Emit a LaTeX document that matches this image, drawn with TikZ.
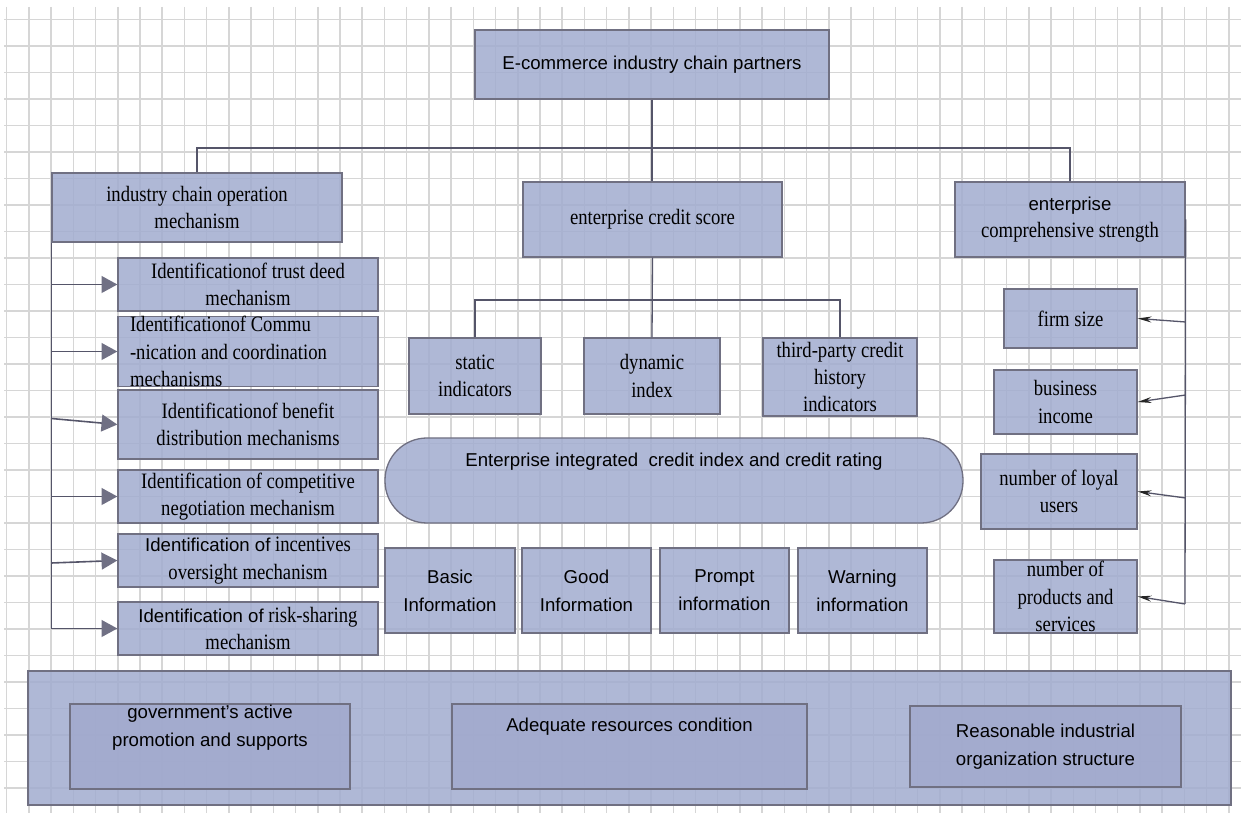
\documentclass[tikz,border=0pt]{standalone}
\usepackage{fontspec}
\usepackage{xcolor}
\usetikzlibrary{arrows.meta,calc}

\newfontfamily\timesnarrow{Liberation Serif}[FakeStretch=0.85]
\newfontfamily\arialfont{Liberation Sans}
\newcommand{\sertext}{\timesnarrow\fontsize{12.5pt}{15.5pt}\selectfont}
\newcommand{\santext}{\arialfont\fontsize{10.6pt}{16pt}\selectfont}
\newcommand{\sanword}[1]{{\arialfont\fontsize{10.6pt}{15.5pt}\selectfont #1}}

\definecolor{boxfill}{RGB}{162,172,207}
\definecolor{innerfill}{RGB}{161,169,205}
\definecolor{boxline}{RGB}{112,112,130}
\definecolor{linkline}{RGB}{85,85,105}
\definecolor{headgray}{RGB}{112,112,132}
\definecolor{gridgray}{RGB}{214,214,214}

\newdimen\pxu \pxu=0.02cm

\begin{document}
\begin{tikzpicture}[x=0.02cm,y=-0.02cm,
  chainbox/.style={rectangle,draw=boxline,line width=1.3\pxu,fill=boxfill,fill opacity=0.85,text opacity=1,inner sep=0pt,align=center,font=\sertext},
  sanbox/.style={chainbox,font=\santext},
  innerbox/.style={sanbox,fill=innerfill},
  link/.style={draw=linkline,line width=1.3\pxu},
  leftarrow/.style={link,line width=1.6\pxu,-{Triangle[length=9pt,width=9.6pt,fill=headgray,color=headgray]}},
  rightarrow/.style={link,-{Stealth[length=7.9pt,width=3.4pt,color=black!85]}},
  gridline/.style={draw=gridgray,line width=1.5\pxu}]

\useasboundingbox (0,0) rectangle (1241,813);
\fill[white] (0,0) rectangle (1241,813);
\foreach \gx in {0,...,55}
  \draw[gridline] ({6.7+22.22*\gx},7) -- ({6.7+22.22*\gx},813);
\foreach \gy in {-1,...,28}
  \draw[gridline] (4,{46+26.5*\gy}) -- (1241,{46+26.5*\gy});

\node (T)[sanbox,minimum width=354\pxu,minimum height=69\pxu] at (652,64.5) {E-commerce industry chain partners};

\node (L0)[chainbox,minimum width=290\pxu,minimum height=69\pxu] at (197,207.5) {industry chain operation\\mechanism};
\node (C0)[chainbox,minimum width=259\pxu,minimum height=75\pxu] at (652.5,219.5) {enterprise credit score};
\node (R0)[chainbox,minimum width=230\pxu,minimum height=75\pxu] at (1070,219.5) {\sanword{enterprise}\\comprehensive strength};

\node (L1)[chainbox,minimum width=260\pxu,minimum height=53\pxu] at (248,284.5) {Identificationof trust deed\\mechanism};
\node (L2)[chainbox,minimum width=260\pxu,minimum height=69\pxu,text width=236\pxu,inner xsep=12\pxu,align=flush left] at (248,351.5) {Identificationof Commu\\-nication and coordination\\mechanisms};
\node (L3)[chainbox,minimum width=260\pxu,minimum height=69\pxu] at (248,424.5) {Identificationof benefit\\distribution mechanisms};
\node (L4)[chainbox,minimum width=260\pxu,minimum height=53\pxu] at (248,496.5) {Identification of competitive\\negotiation mechanism};
\node (L5)[chainbox,minimum width=260\pxu,minimum height=53\pxu] at (248,560.5) {\sanword{Identification of} incentives\\oversight mechanism};
\node (L6)[chainbox,minimum width=260\pxu,minimum height=53\pxu] at (248,628.5) {\sanword{Identification of} risk-sharing\\mechanism};

\node (C1)[chainbox,minimum width=132\pxu,minimum height=76\pxu] at (475,376) {static\\indicators};
\node (C2)[chainbox,minimum width=136\pxu,minimum height=76\pxu] at (652,376) {dynamic\\index};
\node (C3)[chainbox,minimum width=154\pxu,minimum height=78\pxu] at (840,377) {third-party credit\\history\\indicators};

\node (P)[sanbox,minimum width=578\pxu,minimum height=85\pxu,rounded corners=42\pxu] at (674,480.5) {};
\node (PT)[font=\santext] at (674,462) {Enterprise integrated\ \ credit index and credit rating};

\node (I1)[sanbox,minimum width=130\pxu,minimum height=85\pxu] at (450,590.5) {Basic\\Information};
\node (I2)[sanbox,minimum width=129\pxu,minimum height=85\pxu] at (586.5,590.5) {Good\\Information};
\node (I3)[sanbox,minimum width=129\pxu,minimum height=85\pxu] at (724.5,590.5) {Prompt\\information};
\node (I4)[sanbox,minimum width=129\pxu,minimum height=85\pxu] at (862.5,590.5) {Warning\\information};

\node (R1)[chainbox,minimum width=133\pxu,minimum height=59\pxu] at (1070.5,318.5) {firm size};
\node (R2)[chainbox,minimum width=143\pxu,minimum height=64\pxu] at (1065.5,402) {business\\income};
\node (R3)[chainbox,minimum width=156\pxu,minimum height=75\pxu] at (1059,491.5) {number of loyal\\users};
\node (R4)[chainbox,minimum width=143\pxu,minimum height=73\pxu] at (1065.5,596.5) {number of\\products and\\services};

\node (B0)[sanbox,minimum width=1203\pxu,minimum height=134\pxu] at (629.5,738) {};
\node (B1)[innerbox,minimum width=280\pxu,minimum height=85\pxu] at (210,746.5) {};
\node (B1T)[font=\santext,align=center] at (210,727.5) {government’s active\\promotion and supports};
\node (B2)[innerbox,minimum width=355\pxu,minimum height=85\pxu] at (629.5,746.5) {};
\node (B2T)[font=\santext] at (629.5,727) {Adequate resources condition};
\node (B3)[innerbox,minimum width=271\pxu,minimum height=81\pxu] at (1045.5,746.5) {Reasonable industrial\\organization structure};

\coordinate (J0) at (652,148);
\coordinate (J1) at (652,300);
\coordinate (RB) at (1185,604);

\draw[link] (T.south) -- (T.south |- C0.north);
\draw[link] (L0.north) -- (L0.north |- J0) -- (R0.north |- J0) -- (R0.north);

\draw[link] (C0.south) -- (C2.north);
\draw[link] (C1.north) -- (C1.north |- J1) -- (C3.north |- J1) -- (C3.north);

\draw[link] (L0.south west) -- (L0.south west |- L6.west);
\foreach \k in {1,2,4,6}
  \draw[leftarrow] (L0.south west |- L\k.west) -- (L\k.west);
\draw[leftarrow] ($(L0.south west |- L3.west)+(0,-6)$) -- (L3.west);
\draw[leftarrow] ($(L0.south west |- L5.west)+(0,2.5)$) -- (L5.west);

\draw[link] (R0.east) -- (RB);
\draw[rightarrow] ($(R0.east |- R1.east)+(0,3.5)$) -- (R1.east);
\draw[rightarrow] ($(R0.east |- R2.east)+(0,-7)$) -- (R2.east);
\draw[rightarrow] ($(R0.east |- R3.east)+(0,6.5)$) -- (R3.east);
\draw[rightarrow] (RB) -- (R4.east);
\end{tikzpicture}
\end{document}
